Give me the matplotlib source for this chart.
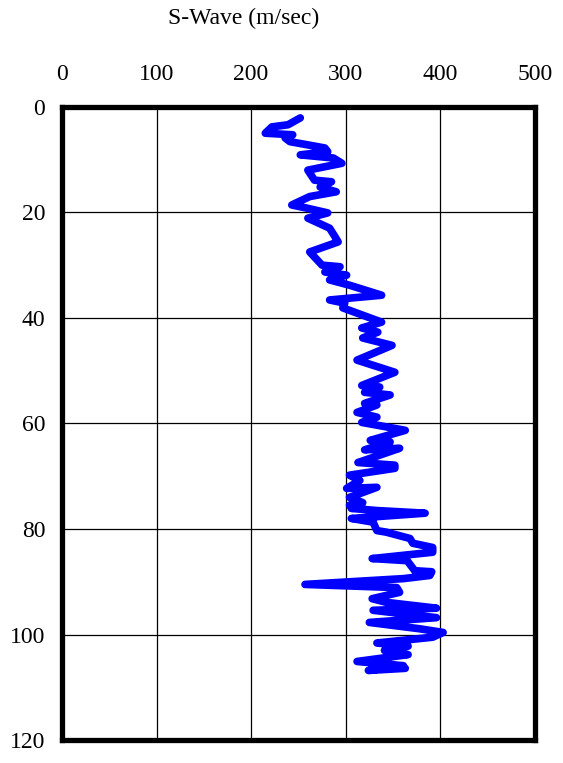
import matplotlib
matplotlib.use('Agg')
import matplotlib.pyplot as plt

# S-wave velocity profile (m/sec) vs depth (m)
velocity = [252, 239, 222, 215, 244, 236, 241, 278, 281, 252, 287, 296, 260,
            267, 285, 273, 290, 262, 243, 259, 281, 260, 283, 289, 292, 262,
            275, 294, 278, 301, 283, 304, 338, 283, 299, 297, 338, 317, 334,
            318, 349, 312, 352, 317, 336, 320, 347, 320, 333, 312, 333, 317,
            363, 326, 347, 320, 357, 336, 313, 352, 352, 304, 315, 301, 333,
            304, 318, 304, 317, 306, 333, 384, 306, 329, 333, 343, 368, 371,
            392, 392, 328, 365, 373, 391, 389, 361, 257, 354, 357, 328, 343,
            396, 329, 396, 325, 378, 403, 392, 333, 366, 341, 366, 312, 361,
            324, 363]
depth = [2.1, 3.4, 3.8, 5.0, 5.3, 5.9, 6.6, 7.8, 8.5, 9.1, 9.7, 10.7, 12.0,
         13.9, 14.2, 15.2, 16.1, 17.0, 18.6, 19.2, 20.1, 21.1, 23.0, 24.7, 25.6, 27.5,
         30.0, 30.3, 31.3, 31.9, 32.8, 33.8, 35.7, 36.6, 37.2, 38.1, 40.8, 41.9, 42.7,
         43.8, 45.2, 48.0, 50.3, 52.8, 53.1, 54.1, 54.6, 56.2, 56.5, 57.9, 58.8, 59.8,
         61.3, 63.2, 63.5, 65.0, 64.7, 66.0, 67.4, 67.9, 68.5, 69.8, 70.8, 72.3, 72.1,
         74.0, 75.0, 75.5, 75.8, 76.1, 76.5, 77.0, 78.0, 78.7, 80.3, 80.6, 81.8, 82.7,
         83.5, 84.4, 85.6, 86.0, 87.9, 88.1, 88.8, 89.4, 90.5, 91.1, 92.0, 93.2, 93.9,
         95.0, 95.4, 96.8, 97.7, 98.9, 99.6, 100.5, 101.6, 102.2, 103.0, 103.8, 105.1, 105.9,
         106.8, 106.4]

x_ticks = [0, 100, 200, 300, 400, 500]
y_ticks = [0, 20, 40, 60, 80, 100, 120]

plt.rcParams['font.family'] = ['Liberation Serif', 'DejaVu Serif']

fig = plt.figure(figsize=(5.63, 7.63), dpi=100)
ax = fig.add_axes([0.110, 0.030, 0.840, 0.830])

ax.plot(velocity, depth, color='#0000ff', linewidth=5.5,
        solid_joinstyle='round', solid_capstyle='round', zorder=3)

ax.set_xlim(0, 500)
ax.set_ylim(120, 0)
ax.set_xticks(x_ticks)
ax.set_yticks(y_ticks)
ax.xaxis.tick_top()
ax.tick_params(axis='both', length=0, labelsize=17)
ax.tick_params(axis='x', pad=16)
ax.tick_params(axis='y', pad=12)
ax.grid(True, color='black', linewidth=0.9)

for s in ax.spines.values():
    s.set_linewidth(3.8)
    s.set_color('black')

fig.text(0.433, 0.976, 'S-Wave (m/sec)', ha='center', va='center', fontsize=17)

fig.savefig('out.png', dpi=100)
